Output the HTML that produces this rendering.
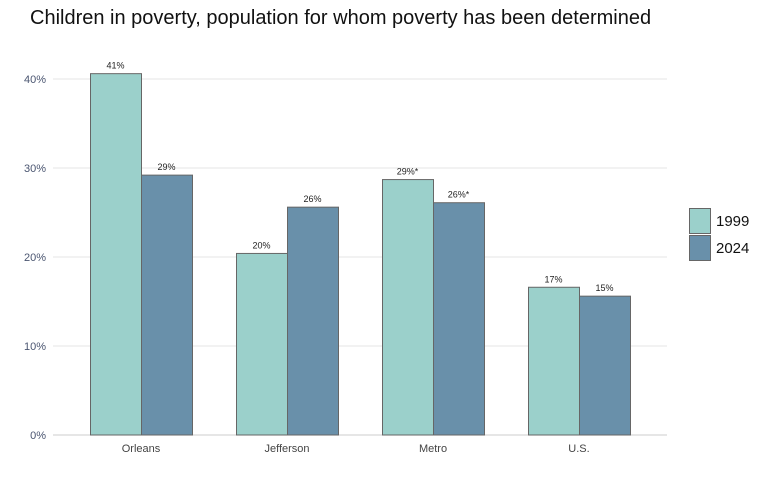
<!DOCTYPE html>
<html><head><meta charset="utf-8"><style>
body{margin:0;background:#fff;width:768px;height:480px;overflow:hidden;font-family:"Liberation Sans",sans-serif}
</style></head><body>
<svg id="chart" width="768" height="480">
<text x="30" y="24" font-size="20" fill="#111">Children in poverty, population for whom poverty has been determined</text>
<g id="grid"></g><g id="bars"></g><g id="legend"></g>
</svg>
<script>
const categories=["Orleans","Jefferson","Metro","U.S."];
const series1999=[40.6,20.4,28.7,16.6];
const series2024=[29.2,25.6,26.1,15.6];
const labels1999=["41%","20%","29%*","17%"];
const labels2024=["29%","26%","26%*","15%"];
const yTicks=[0,10,20,30,40];
const seriesNames=["1999","2024"];
const colors=["#9bd0cb","#6990aa"];
const ns="http://www.w3.org/2000/svg";
const svg=document.getElementById('chart');
const x0=53,x1=667,y0=435,pxPer=8.9;
const y=v=>y0-v*pxPer;
const catX=i=>141+i*146;
const bw=51;
function mk(t,a,p){const e=document.createElementNS(ns,t);for(const k in a)e.setAttribute(k,a[k]);p.appendChild(e);return e;}
const grid=document.getElementById('grid');
yTicks.forEach(t=>{
  const l=mk('line',{x1:x0,x2:x1,y1:y(t),y2:y(t),stroke:t===0?'#ccc':'#e6e6e6','stroke-width':1},grid);
  
  
  const tx=mk('text',{x:46,y:y(t)+4,'text-anchor':'end','font-size':11,fill:'#4a5570'},grid);
  tx.textContent=t+'%';
  
  
});
const bars=document.getElementById('bars');
categories.forEach((c,i)=>{
  [[series1999,labels1999,0],[series2024,labels2024,1]].forEach(([s,lab,k])=>{
    const bx=catX(i)-bw+k*bw;
    const r=mk('rect',{x:bx+0.5,y:y(s[i]),width:bw,height:y0-y(s[i]),fill:colors[k],stroke:'#666','stroke-width':1},bars);
    
    
    const t=mk('text',{x:bx+bw/2,y:y(s[i])-5,'text-anchor':'middle','font-size':9,fill:'#222'},bars);
    t.textContent=lab[i];
    
    
  });
  const t=mk('text',{x:catX(i),y:452,'text-anchor':'middle','font-size':11,fill:'#444'},bars);
  t.textContent=c;
  
  
});
const lg=document.getElementById('legend');
seriesNames.forEach((n,k)=>{
  const r=mk('rect',{x:689.5,y:208.5+k*27,width:21,height:25,fill:colors[k],stroke:'#666'},lg);
  
  
  const t=mk('text',{x:716,y:226+k*27,'font-size':15,fill:'#111'},lg);
  t.textContent=n;
  
  
});
</script>
</body></html>
